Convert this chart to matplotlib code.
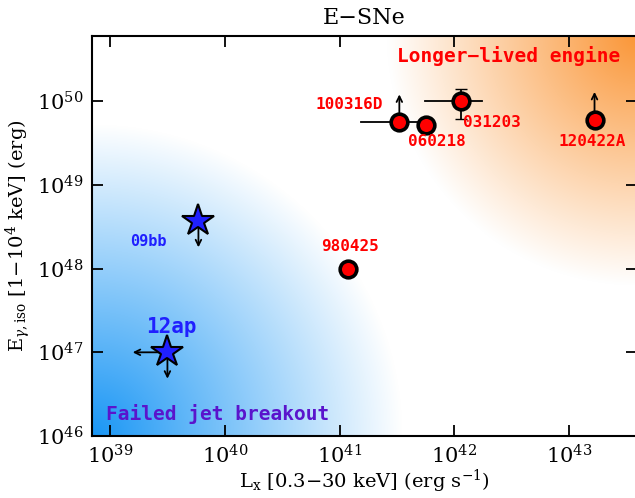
import numpy as np
import matplotlib
matplotlib.use("Agg")
from matplotlib import pyplot as plt

plt.rcParams['mathtext.fontset'] = 'dejavuserif'
plt.rcParams['font.family'] = 'DejaVu Serif'

# --- data (log10 values) ---
grb_names = ['100316D', '060218', '031203', '120422A', '980425']
grb_logL = [41.52, 41.75, 42.06, 43.22, 41.07]
grb_logE = [49.75, 49.72, 50.00, 49.78, 48.00]
grb_Llo = [41.19, None, 41.74, None, None]
grb_Lhi = [41.72, None, 42.24, None, None]
grb_Elo = [None, None, 49.79, None, None]
grb_Ehi = [None, None, 50.15, None, None]
grb_Elowlim = [True, False, False, True, False]  # arrow up

sn_names = ['09bb', '12ap']
sn_logL = [39.77, 39.50]
sn_logE = [48.57, 47.00]
sn_L_uplim = [False, True]   # arrow left
sn_E_uplim = [True, True]    # arrow down

W, H = 635, 498
fig = plt.figure(figsize=(W / 100, H / 100), dpi=100)
pos = [92 / W, 1 - 436 / H, 545 / W, 400 / H]

# background gradients in an axes of its own
bg = fig.add_axes(pos, zorder=0)
bg.set_axis_off()
nx, ny = 545, 400
xx, yy = np.meshgrid(np.arange(nx), np.arange(ny))
img = np.ones((ny, nx, 3))
# blue, lower left corner
r = np.hypot(xx, yy)
a = np.clip(1 - r / 310.0, 0, 1)
blue = np.array([25, 150, 245]) / 255.0
# orange, upper right corner
r2 = np.hypot(nx - xx, ny - yy)
b = np.clip(1 - r2 / 250.0, 0, 1)
orange = np.array([250, 150, 55]) / 255.0
for c in range(3):
    img[..., c] = img[..., c] * (1 - a) + blue[c] * a
    img[..., c] = img[..., c] * (1 - b) + orange[c] * b
bg.imshow(img, origin='lower', extent=(0, 1, 0, 1), aspect='auto')
bg.set_xlim(0, 1)
bg.set_ylim(0, 1)

ax = fig.add_axes(pos, zorder=1)
ax.patch.set_alpha(0)
ax.set_xscale('log')
ax.set_yscale('log')
ax.set_xlim(10 ** 38.843, 10 ** 43.59)
ax.set_ylim(1e46, 10 ** 50.78)

arrow = dict(arrowstyle='<-', color='k', lw=1.3, shrinkA=0, shrinkB=0,
             mutation_scale=10)


def limit_arrow(x, y, dx, dy):
    ax.annotate('', xy=(x, y), xytext=(dx, dy), textcoords='offset points',
                arrowprops=arrow, zorder=3)


# GRBs
for i, name in enumerate(grb_names):
    x = 10 ** grb_logL[i]
    y = 10 ** grb_logE[i]
    if grb_Llo[i] is not None:
        ax.plot([10 ** grb_Llo[i], 10 ** grb_Lhi[i]], [y, y], color='k', lw=1.3, zorder=3)
    if grb_Elo[i] is not None:
        ax.errorbar([x], [y], yerr=[[y - 10 ** grb_Elo[i]], [10 ** grb_Ehi[i] - y]],
                    fmt='none', ecolor='k', elinewidth=1.3, capsize=4, zorder=3)
    if grb_Elowlim[i]:
        limit_arrow(x, y, 0, 20)
    ax.plot([x], [y], 'o', ms=12, mfc='#ff0000', mec='k', mew=2.6, zorder=4)

# label positions (offsets in points from the marker)
grb_lab_off = [(-36, 13), (8, -12), (22, -15), (-2, -16), (2, 16)]
for i, name in enumerate(grb_names):
    ax.annotate(name, (10 ** grb_logL[i], 10 ** grb_logE[i]),
                xytext=grb_lab_off[i], textcoords='offset points',
                ha='center', va='center', color='#ff0000', fontsize=11.5,
                family='DejaVu Sans Mono', weight='bold', zorder=5)

# SNe
for i, name in enumerate(sn_names):
    x = 10 ** sn_logL[i]
    y = 10 ** sn_logE[i]
    if sn_E_uplim[i]:
        limit_arrow(x, y, 0, -19)
    if sn_L_uplim[i]:
        limit_arrow(x, y, -25, 0)
    ax.plot([x], [y], '*', ms=24, mfc='#2020ff', mec='k', mew=1.5, zorder=4)

ax.annotate('09bb', (10 ** sn_logL[0], 10 ** sn_logE[0]), xytext=(-36, -15),
            textcoords='offset points', ha='center', va='center',
            color='#2020ff', fontsize=11, family='DejaVu Sans Mono', weight='bold')
ax.annotate('12ap', (10 ** sn_logL[1], 10 ** sn_logE[1]), xytext=(3, 18),
            textcoords='offset points', ha='center', va='center',
            color='#2020ff', fontsize=15, family='DejaVu Sans Mono', weight='bold')

ax.text(0.765, 0.95, 'Longer\u2212lived engine', transform=ax.transAxes,
        ha='center', va='center', color='#ff0000', fontsize=14,
        family='DejaVu Sans Mono', weight='bold')
ax.text(0.23, 0.055, 'Failed jet breakout', transform=ax.transAxes,
        ha='center', va='center', color='#5a14cc', fontsize=14,
        family='DejaVu Sans Mono', weight='bold')

ax.set_xticks([1e39, 1e40, 1e41, 1e42, 1e43])
ax.set_yticks([1e46, 1e47, 1e48, 1e49, 1e50])
ax.minorticks_off()
ax.tick_params(direction='in', length=8, width=1.3, top=True, right=True,
               labelsize=15, pad=6)
for s in ax.spines.values():
    s.set_linewidth(1.5)

ax.set_title('E\u2212SNe', fontsize=16, pad=9)
ax.set_xlabel(r'L$_{\rm x}$ [0.3$-$30 keV] (erg s$^{-1}$)', fontsize=14, labelpad=0)
ax.set_ylabel(r'E$_{\gamma,\rm iso}$ [1$-$10$^4$ keV] (erg)', fontsize=14, labelpad=3)

fig.savefig('out.png', dpi=100)
